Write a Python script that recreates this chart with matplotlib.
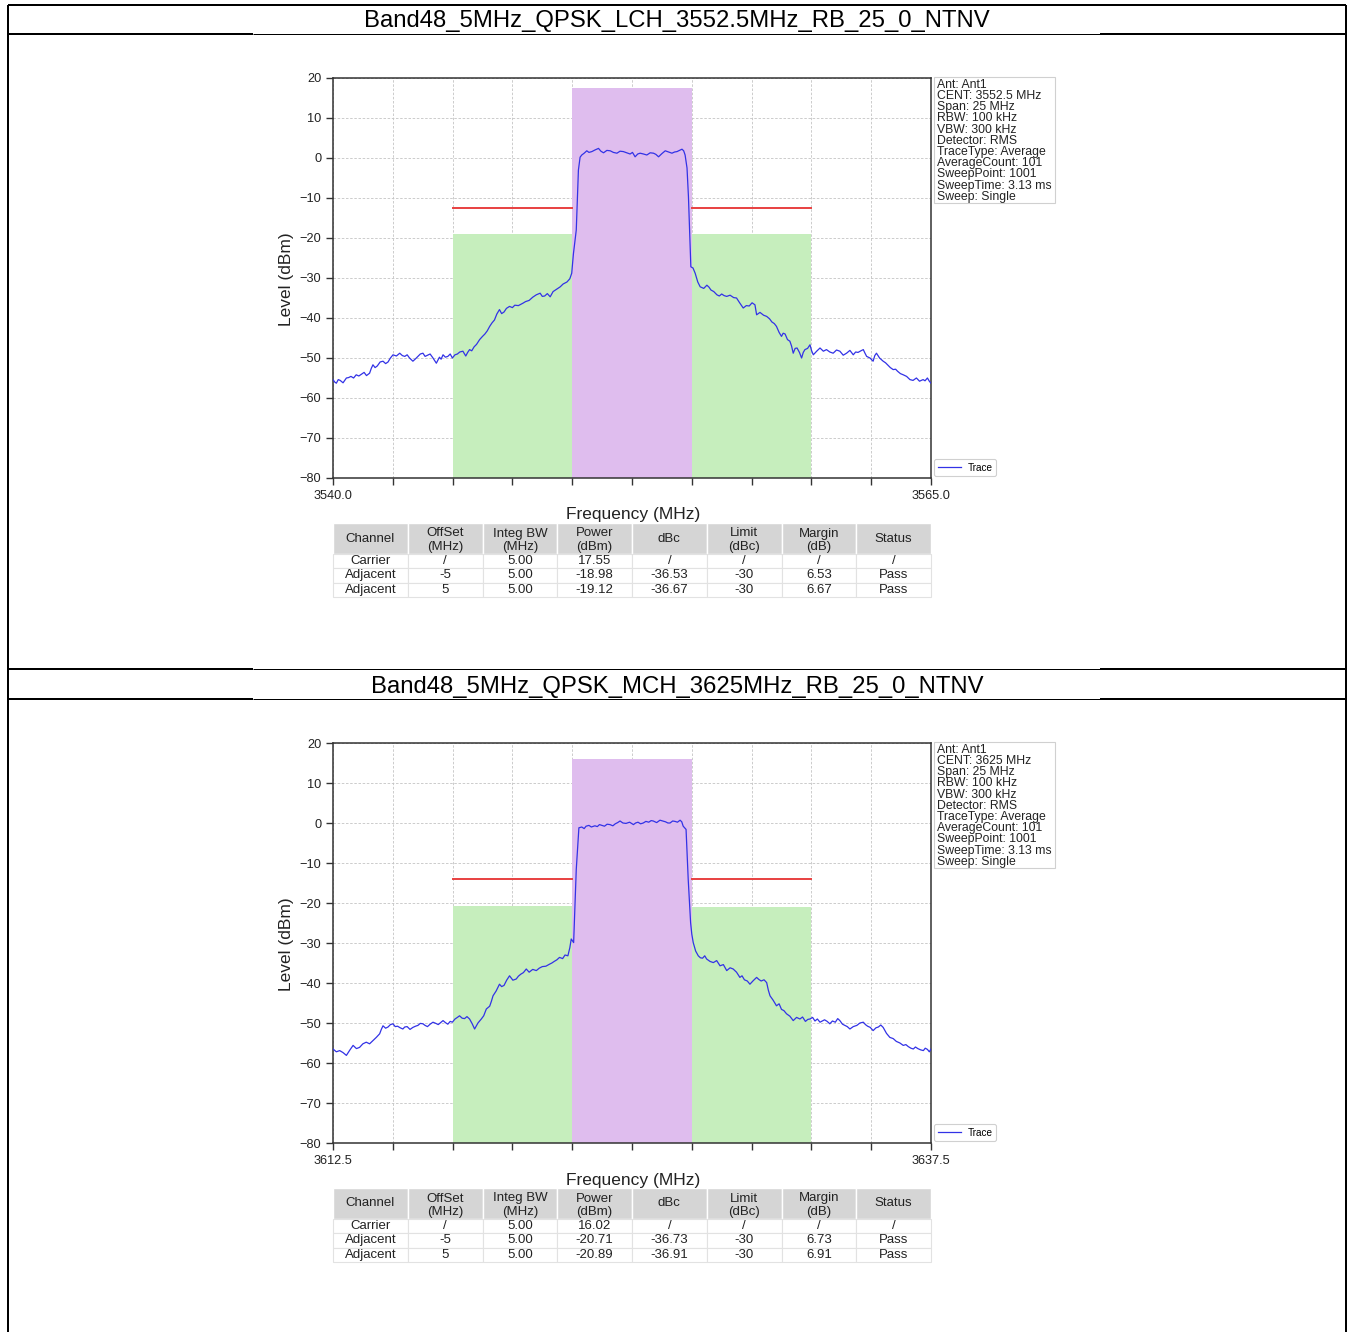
import matplotlib
matplotlib.use("Agg")
import matplotlib.pyplot as plt
from matplotlib.patches import Rectangle
from matplotlib.lines import Line2D
import numpy as np

plt.rcParams['font.family'] = ['Liberation Sans', 'DejaVu Sans']

# ---------------- data ----------------
titles = ["Band48_5MHz_QPSK_LCH_3552.5MHz_RB_25_0_NTNV",
          "Band48_5MHz_QPSK_MCH_3625MHz_RB_25_0_NTNV"]
center_freqs = [3552.5, 3625.0]
span_mhz = 25.0

info_lines_1 = ["Ant: Ant1", "CENT: 3552.5 MHz", "Span: 25 MHz", "RBW: 100 kHz",
                "VBW: 300 kHz", "Detector: RMS", "TraceType: Average",
                "AverageCount: 101", "SweepPoint: 1001", "SweepTime: 3.13 ms",
                "Sweep: Single"]
info_lines_2 = ["Ant: Ant1", "CENT: 3625 MHz", "Span: 25 MHz", "RBW: 100 kHz",
                "VBW: 300 kHz", "Detector: RMS", "TraceType: Average",
                "AverageCount: 101", "SweepPoint: 1001", "SweepTime: 3.13 ms",
                "Sweep: Single"]

table_header = ["Channel", "OffSet\n(MHz)", "Integ BW\n(MHz)", "Power\n(dBm)",
                "dBc", "Limit\n(dBc)", "Margin\n(dB)", "Status"]
table_rows_1 = [["Carrier", "/", "5.00", "17.55", "/", "/", "/", "/"],
                ["Adjacent", "-5", "5.00", "-18.98", "-36.53", "-30", "6.53", "Pass"],
                ["Adjacent", "5", "5.00", "-19.12", "-36.67", "-30", "6.67", "Pass"]]
table_rows_2 = [["Carrier", "/", "5.00", "16.02", "/", "/", "/", "/"],
                ["Adjacent", "-5", "5.00", "-20.71", "-36.73", "-30", "6.73", "Pass"],
                ["Adjacent", "5", "5.00", "-20.89", "-36.91", "-30", "6.91", "Pass"]]

carrier_bw = 5.0
carrier_power = [17.55, 16.02]
adj_offsets = [-5.0, 5.0]
adj_bw = 5.0
adj_power_1 = [-18.98, -19.12]
adj_power_2 = [-20.71, -20.89]
limit_dbc = -30.0

trace_1 = [
    (3540.00, -55.4), (3540.07, -56.0), (3540.14, -56.3), (3540.22, -55.4), (3540.30, -55.6),
    (3540.42, -56.2), (3540.56, -55.0), (3540.65, -54.9), (3540.75, -54.6), (3540.86, -55.0),
    (3540.97, -54.2), (3541.08, -54.5), (3541.20, -54.0), (3541.30, -53.6), (3541.40, -54.4),
    (3541.53, -53.8), (3541.60, -52.6), (3541.67, -51.7), (3541.76, -52.4), (3541.85, -52.0),
    (3541.97, -51.0), (3542.09, -50.8), (3542.20, -51.4), (3542.30, -51.0), (3542.40, -50.0),
    (3542.51, -49.2), (3542.65, -49.5), (3542.79, -48.8), (3542.90, -49.4), (3543.00, -49.6),
    (3543.10, -49.2), (3543.20, -50.0), (3543.34, -50.8), (3543.45, -50.2), (3543.55, -49.6),
    (3543.65, -49.0), (3543.76, -48.8), (3543.85, -49.6), (3543.95, -49.3), (3544.06, -49.0),
    (3544.18, -50.0), (3544.32, -51.3), (3544.45, -49.8), (3544.52, -50.3), (3544.60, -49.2),
    (3544.70, -49.8), (3544.80, -49.6), (3544.90, -49.0), (3544.99, -50.0), (3545.10, -49.2),
    (3545.20, -49.0), (3545.30, -48.5), (3545.43, -48.3), (3545.55, -49.5), (3545.63, -48.6),
    (3545.71, -47.9), (3545.80, -48.2), (3545.90, -47.2), (3546.00, -46.6), (3546.13, -45.4),
    (3546.25, -44.6), (3546.35, -44.0), (3546.45, -43.2), (3546.55, -42.1), (3546.65, -41.2),
    (3546.75, -40.5), (3546.85, -39.0), (3546.96, -37.9), (3547.05, -38.9), (3547.15, -38.5),
    (3547.25, -37.6), (3547.38, -37.1), (3547.50, -37.4), (3547.60, -36.8), (3547.75, -36.9),
    (3547.94, -36.3), (3548.05, -35.9), (3548.20, -35.6), (3548.35, -34.8), (3548.50, -34.2),
    (3548.66, -33.8), (3548.75, -34.6), (3548.85, -34.5), (3548.96, -33.9), (3549.08, -34.7),
    (3549.20, -33.4), (3549.30, -33.0), (3549.40, -32.6), (3549.50, -32.2), (3549.62, -31.5),
    (3549.78, -31.0), (3549.90, -30.2), (3549.98, -28.8), (3550.05, -24.0), (3550.17, -18.0),
    (3550.26, -3.0), (3550.33, 0.2), (3550.40, 0.75), (3550.50, 1.2), (3550.61, 1.8),
    (3550.70, 1.4), (3550.82, 1.6), (3550.95, 2.0), (3551.10, 2.4), (3551.20, 1.7),
    (3551.31, 1.3), (3551.45, 1.9), (3551.59, 1.8), (3551.72, 1.4), (3551.87, 1.2),
    (3552.00, 1.7), (3552.14, 1.6), (3552.28, 1.3), (3552.42, 1.0), (3552.52, 1.4),
    (3552.63, 0.3), (3552.74, 1.0), (3552.84, 1.2), (3552.98, 1.0), (3553.12, 0.75),
    (3553.26, 1.3), (3553.40, 1.2), (3553.50, 0.9), (3553.61, 0.3), (3553.75, 1.1),
    (3553.89, 1.8), (3554.03, 1.5), (3554.17, 1.2), (3554.28, 1.5), (3554.38, 1.6),
    (3554.48, 1.9), (3554.59, 2.2), (3554.66, 1.8), (3554.72, 0.75), (3554.80, -2.5),
    (3554.86, -9.7), (3554.96, -27.2), (3555.05, -27.5), (3555.14, -28.8), (3555.25, -31.0),
    (3555.35, -32.2), (3555.50, -32.6), (3555.63, -31.8), (3555.72, -32.3), (3555.80, -33.0),
    (3555.92, -33.4), (3556.05, -34.2), (3556.15, -34.5), (3556.25, -34.0), (3556.35, -34.4),
    (3556.46, -34.6), (3556.60, -34.3), (3556.75, -34.9), (3556.87, -35.0), (3557.00, -36.2),
    (3557.15, -37.5), (3557.28, -36.9), (3557.40, -37.0), (3557.52, -36.2), (3557.64, -36.7),
    (3557.71, -39.2), (3557.85, -38.6), (3558.00, -39.3), (3558.13, -39.6), (3558.25, -40.2),
    (3558.35, -41.0), (3558.45, -41.4), (3558.54, -42.1), (3558.65, -43.6), (3558.75, -44.6),
    (3558.82, -43.8), (3558.90, -44.0), (3559.00, -45.4), (3559.10, -45.8), (3559.17, -47.0),
    (3559.24, -48.8), (3559.32, -47.6), (3559.40, -47.5), (3559.50, -48.6), (3559.59, -50.0),
    (3559.66, -48.6), (3559.73, -47.9), (3559.84, -47.6), (3559.94, -46.7), (3560.01, -48.2),
    (3560.08, -49.2), (3560.22, -48.3), (3560.36, -47.5), (3560.50, -48.3), (3560.63, -47.9),
    (3560.77, -48.5), (3560.91, -48.8), (3561.05, -48.0), (3561.19, -48.3), (3561.33, -49.3),
    (3561.47, -48.8), (3561.61, -48.1), (3561.75, -49.2), (3561.85, -48.5), (3561.95, -48.6),
    (3562.07, -48.2), (3562.17, -47.9), (3562.24, -48.8), (3562.31, -49.6), (3562.45, -50.0),
    (3562.58, -50.8), (3562.65, -49.4), (3562.72, -48.8), (3562.85, -50.0), (3563.00, -50.8),
    (3563.10, -51.2), (3563.20, -51.8), (3563.30, -52.4), (3563.42, -52.9), (3563.52, -52.8),
    (3563.60, -53.3), (3563.72, -53.9), (3563.84, -54.2), (3563.98, -54.6), (3564.12, -55.4),
    (3564.25, -55.6), (3564.39, -55.0), (3564.52, -55.8), (3564.67, -55.4), (3564.75, -55.7),
    (3564.85, -55.0), (3564.93, -55.8), (3565.00, -56.3)]

trace_2 = [
    (3612.50, -56.5), (3612.64, -57.2), (3612.78, -56.9), (3612.92, -57.4), (3613.06, -58.1),
    (3613.20, -56.8), (3613.34, -55.6), (3613.48, -56.4), (3613.61, -56.1), (3613.75, -55.2),
    (3613.89, -54.8), (3614.03, -55.2), (3614.17, -54.4), (3614.31, -53.6), (3614.45, -52.7),
    (3614.52, -51.6), (3614.59, -50.7), (3614.70, -51.3), (3614.80, -51.0), (3614.90, -50.4),
    (3615.01, -50.2), (3615.10, -50.9), (3615.20, -50.8), (3615.31, -51.2), (3615.42, -51.5),
    (3615.50, -51.0), (3615.60, -50.9), (3615.72, -51.6), (3615.84, -51.1), (3615.95, -50.8),
    (3616.05, -50.6), (3616.15, -50.1), (3616.26, -50.2), (3616.35, -50.6), (3616.45, -50.9),
    (3616.56, -50.3), (3616.68, -49.8), (3616.80, -50.1), (3616.90, -50.4), (3617.00, -49.9),
    (3617.10, -49.4), (3617.20, -49.9), (3617.30, -50.3), (3617.40, -49.6), (3617.49, -49.8),
    (3617.60, -49.0), (3617.70, -48.6), (3617.79, -48.2), (3617.90, -48.8), (3618.00, -48.9),
    (3618.10, -48.4), (3618.21, -49.0), (3618.32, -50.2), (3618.42, -51.5), (3618.56, -50.0),
    (3618.70, -49.0), (3618.80, -48.2), (3618.91, -46.5), (3619.05, -45.8), (3619.12, -44.6),
    (3619.19, -43.2), (3619.32, -42.0), (3619.46, -40.3), (3619.55, -40.9), (3619.65, -40.6),
    (3619.76, -39.3), (3619.88, -38.2), (3620.02, -39.3), (3620.16, -39.0), (3620.25, -38.3),
    (3620.35, -37.8), (3620.46, -37.4), (3620.58, -36.5), (3620.70, -37.3), (3620.85, -36.6),
    (3621.00, -36.9), (3621.12, -36.3), (3621.25, -35.9), (3621.40, -35.8), (3621.55, -35.3),
    (3621.65, -35.0), (3621.75, -34.6), (3621.86, -34.2), (3621.97, -33.6), (3622.10, -33.9),
    (3622.20, -33.0), (3622.32, -33.2), (3622.40, -31.2), (3622.46, -29.0), (3622.56, -29.9),
    (3622.67, -11.6), (3622.78, -1.2), (3622.90, -1.0), (3623.00, -1.4), (3623.08, -0.8),
    (3623.20, -0.6), (3623.30, -1.0), (3623.45, -0.7), (3623.55, -0.9), (3623.64, -0.4),
    (3623.75, -0.6), (3623.85, -0.8), (3623.96, -0.3), (3624.08, -0.4), (3624.20, -0.7),
    (3624.30, -0.2), (3624.40, 0.1), (3624.50, 0.5), (3624.62, 0.0), (3624.75, -0.1),
    (3624.90, 0.2), (3625.06, -0.4), (3625.15, 0.0), (3625.25, 0.2), (3625.36, -0.2),
    (3625.47, 0.0), (3625.58, 0.4), (3625.70, 0.2), (3625.80, 0.6), (3625.89, 0.5),
    (3626.03, 0.1), (3626.17, 0.7), (3626.28, 0.5), (3626.40, 0.3), (3626.50, 0.0),
    (3626.59, 0.0), (3626.70, 0.5), (3626.80, 0.4), (3626.90, 0.2), (3627.01, 0.7),
    (3627.08, 0.3), (3627.14, -0.8), (3627.26, -1.6), (3627.35, -14.1), (3627.45, -24.9),
    (3627.50, -27.8), (3627.56, -29.9), (3627.66, -32.0), (3627.77, -33.2), (3627.86, -33.7),
    (3627.95, -33.8), (3628.04, -33.2), (3628.12, -34.0), (3628.26, -34.6), (3628.40, -34.9),
    (3628.54, -34.4), (3628.68, -35.7), (3628.82, -35.4), (3628.96, -36.9), (3629.10, -36.2),
    (3629.23, -36.5), (3629.37, -37.3), (3629.51, -38.6), (3629.60, -38.2), (3629.70, -39.2),
    (3629.82, -39.5), (3629.93, -40.3), (3630.07, -39.4), (3630.21, -38.6), (3630.30, -39.1),
    (3630.40, -39.5), (3630.52, -39.2), (3630.63, -39.9), (3630.70, -41.8), (3630.77, -43.2),
    (3630.90, -44.3), (3631.04, -45.7), (3631.15, -45.2), (3631.25, -46.6), (3631.35, -46.9),
    (3631.46, -47.7), (3631.60, -48.3), (3631.74, -49.4), (3631.88, -48.6), (3632.02, -49.0),
    (3632.13, -48.5), (3632.25, -49.6), (3632.35, -49.1), (3632.44, -49.0), (3632.55, -48.6),
    (3632.65, -49.5), (3632.75, -49.0), (3632.86, -49.8), (3632.96, -49.5), (3633.05, -49.2),
    (3633.16, -49.6), (3633.27, -50.2), (3633.38, -49.5), (3633.50, -49.8), (3633.60, -48.9),
    (3633.69, -49.4), (3633.80, -50.3), (3633.90, -50.6), (3634.00, -50.9), (3634.11, -51.5),
    (3634.25, -50.9), (3634.40, -50.6), (3634.53, -50.0), (3634.67, -49.8), (3634.76, -50.4),
    (3634.85, -50.8), (3634.96, -51.1), (3635.08, -51.9), (3635.20, -51.2), (3635.30, -51.0),
    (3635.40, -50.5), (3635.50, -51.1), (3635.64, -52.6), (3635.78, -53.6), (3635.92, -53.9),
    (3636.05, -54.6), (3636.20, -55.0), (3636.34, -55.6), (3636.45, -55.4), (3636.55, -55.9),
    (3636.66, -56.3), (3636.76, -56.5), (3636.85, -56.0), (3636.95, -56.4), (3637.06, -56.7),
    (3637.18, -56.9), (3637.26, -56.3), (3637.35, -56.6), (3637.43, -57.2), (3637.50, -56.5)]

panels = [
    dict(title=titles[0], cent=center_freqs[0], trace=trace_1, info=info_lines_1,
         rows=table_rows_1, pcar=carrier_power[0], padj=adj_power_1),
    dict(title=titles[1], cent=center_freqs[1], trace=trace_2, info=info_lines_2,
         rows=table_rows_2, pcar=carrier_power[1], padj=adj_power_2),
]

# ---------------- figure ----------------
W, H = 1348, 1332
fig = plt.figure(figsize=(W / 100, H / 100), dpi=100)
fig.patch.set_facecolor('white')


def fx(x):
    return x / W


def fy(y):
    return 1 - y / H


def line_px(x0, y0, x1, y1, lw_px, color='black'):
    fig.add_artist(Line2D([fx(x0), fx(x1)], [fy(y0), fy(y1)], lw=lw_px * 0.72,
                          color=color, transform=fig.transFigure,
                          solid_capstyle='butt'))


# document borders
line_px(8, 5, 1346, 5, 2)
line_px(8, 5, 8, 1332, 2)
line_px(1346, 5, 1346, 1332, 2)
for yy in (33.5, 669, 698.5):
    line_px(8, yy, 253, yy, 2)
    line_px(253, yy, 1100, yy, 1)
    line_px(1100, yy, 1346, yy, 2)

GREEN = '#c6eebd'
PURPLE = '#dfbdee'
BLUE = '#3232e6'
RED = '#e84040'
TXT = '#222222'

for k, p in enumerate(panels):
    dy = 665 * k
    fig.text(fx(677), fy(21.5 + dy), p['title'], ha='center', va='center',
             fontsize=17.2, color='black')

    ax = fig.add_axes([fx(333), fy(478 + dy), (931 - 333) / W, 400 / H])
    cent = p['cent']
    f0, f1 = cent - span_mhz / 2, cent + span_mhz / 2
    ax.set_xlim(f0, f1)
    ax.set_ylim(-80, 20)
    ax.set_axisbelow(True)
    ax.grid(True, linestyle=(0, (3, 2)), color='#c4c4c4', lw=0.6)

    # channel bands
    ax.add_patch(Rectangle((cent - carrier_bw / 2, -80), carrier_bw, p['pcar'] + 80,
                           facecolor=PURPLE, edgecolor='none', zorder=1))
    for off, pw in zip(adj_offsets, p['padj']):
        ax.add_patch(Rectangle((cent + off - adj_bw / 2, -80), adj_bw, pw + 80,
                               facecolor=GREEN, edgecolor='none', zorder=1))
        lim = p['pcar'] + limit_dbc
        ax.plot([cent + off - adj_bw / 2, cent + off + adj_bw / 2], [lim, lim],
                color=RED, lw=1.4, zorder=2)

    fr = [t[0] for t in p['trace']]
    lv = [t[1] for t in p['trace']]
    ax.plot(fr, lv, color=BLUE, lw=0.9, zorder=3, label='Trace')

    xt = np.arange(f0, f1 + 1e-6, 2.5)
    ax.set_xticks(xt)
    ax.set_xticklabels([f'{v:.1f}' if i in (0, len(xt) - 1) else ''
                        for i, v in enumerate(xt)])
    ax.set_yticks(np.arange(-80, 21, 10))
    ax.tick_params(direction='out', length=5, width=1, labelsize=9.2,
                   colors='#333333', labelcolor=TXT)
    for s in ax.spines.values():
        s.set_color('#333333')
        s.set_linewidth(1.1)

    leg = ax.legend(loc='lower left', bbox_to_anchor=(1.0055, 0.004),
                    borderaxespad=0, fontsize=7.2, handlelength=2.3,
                    handletextpad=0.7, borderpad=0.35, framealpha=1,
                    edgecolor='#d0d0d0')
    leg.get_frame().set_linewidth(0.8)

    fig.text(fx(633), fy(515 + dy), 'Frequency (MHz)', ha='center', va='center',
             fontsize=12.5, color=TXT)
    fig.text(fx(286.5), fy(279 + dy), 'Level (dBm)', ha='center', va='center',
             rotation=90, fontsize=12.5, color=TXT)

    # info box
    fig.add_artist(Rectangle((fx(933.5), fy(203 + dy)), (1055 - 933.5) / W, (203 - 77) / H,
                             transform=fig.transFigure, facecolor='white',
                             edgecolor='#d0d0d0', lw=0.8))
    for i, s in enumerate(p['info']):
        fig.text(fx(937), fy(84.8 + 11.2 * i + dy), s, ha='left', va='center',
                 fontsize=8.8, color=TXT)

    # results table
    tx0, tx1 = 333, 931
    ty0 = 523 + dy
    hdr_h = 31
    row_h = 14.3
    cw = (tx1 - tx0) / len(table_header)
    for c, h in enumerate(table_header):
        x0 = tx0 + c * cw
        fig.add_artist(Rectangle((fx(x0), fy(ty0 + hdr_h)), cw / W, hdr_h / H,
                                 transform=fig.transFigure, facecolor='#d5d5d5',
                                 edgecolor='white', lw=1.0))
        parts = h.split('\n')
        if len(parts) == 1:
            fig.text(fx(x0 + cw / 2), fy(ty0 + hdr_h / 2), parts[0], ha='center',
                     va='center', fontsize=9.5, color=TXT)
        else:
            for j, s in enumerate(parts):
                fig.text(fx(x0 + cw / 2), fy(ty0 + 10.5 + 13.3 * j), s, ha='center',
                         va='center', fontsize=9.5, color=TXT)
    for r, row in enumerate(p['rows']):
        y0 = ty0 + hdr_h + r * row_h
        for c, v in enumerate(row):
            x0 = tx0 + c * cw
            fig.add_artist(Rectangle((fx(x0), fy(y0 + row_h)), cw / W, row_h / H,
                                     transform=fig.transFigure, facecolor='white',
                                     edgecolor='#e2e2e2', lw=0.8))
            fig.text(fx(x0 + cw / 2), fy(y0 + row_h / 2), v, ha='center',
                     va='center', fontsize=9.5, color=TXT)

fig.savefig('out.png', dpi=100, facecolor='white')
